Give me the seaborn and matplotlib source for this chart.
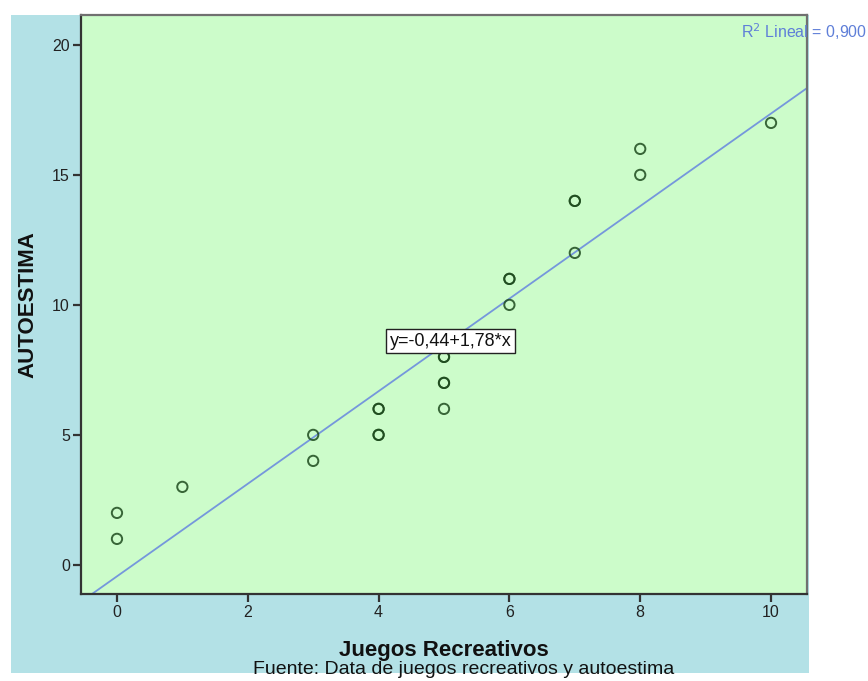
import matplotlib
matplotlib.use("Agg")
import matplotlib.pyplot as plt
from matplotlib.patches import Rectangle
import numpy as np
import pandas as pd
import seaborn as sns

# Observations (repeated pairs are listed once per case)
juegos = [0, 0, 1, 3, 3, 4, 4, 4, 4, 5, 5, 5, 5, 5, 6, 6, 6, 7, 7, 7, 8, 8, 10]
autoestima = [1, 2, 3, 4, 5, 5, 5, 6, 6, 6, 7, 7, 8, 8, 10, 11, 11, 12, 14, 14, 15, 16, 17]

# Fitted linear model as reported
intercepto = -0.44
pendiente = 1.78
r2 = 0.900

x_ticks = [0, 2, 4, 6, 8, 10]
y_ticks = [0, 5, 10, 15, 20]

df = pd.DataFrame({"Juegos Recreativos": juegos, "AUTOESTIMA": autoestima})

sns.set_theme(style="white")
plt.rcParams["font.family"] = ["Liberation Sans", "DejaVu Sans"]

W, H = 868, 681
fig = plt.figure(figsize=(W / 100, H / 100), dpi=100, facecolor="white")

# Outer chart panel
fig.patches.append(Rectangle((11 / W, 1 - 673 / H), (809 - 11) / W, (673 - 15) / H,
                             transform=fig.transFigure, facecolor="#b3e1e6",
                             edgecolor="none", zorder=-10))

ax = fig.add_axes([81 / W, 1 - 594 / H, (807 - 81) / W, (594 - 15) / H])
ax.set_zorder(1)
ax.set_facecolor("#ccfcca")

xmin, xmax = -0.55, 10.55
ymin, ymax = -1.12, 21.15

# Regression line across the full x-range
line_x = np.array([xmin - 0.5, xmax + 0.5])
line_df = pd.DataFrame({"x": line_x, "y": intercepto + pendiente * line_x})
sns.lineplot(data=line_df, x="x", y="y", ax=ax, color="#7597dc", linewidth=1.3, zorder=2)

sns.scatterplot(data=df, x="Juegos Recreativos", y="AUTOESTIMA", ax=ax,
                marker="o", s=55, facecolor="none", edgecolor="#1d4a1d",
                linewidth=1.4, alpha=0.85, zorder=3)

ax.set_xlim(xmin, xmax)
ax.set_ylim(ymin, ymax)
ax.set_xticks(x_ticks)
ax.set_yticks(y_ticks)
ax.tick_params(axis="both", which="major", direction="out", length=6, width=1.6,
               color="#333333", labelsize=11.5, labelcolor="#222222", pad=2,
               bottom=True, left=True)

for side in ["left", "bottom"]:
    ax.spines[side].set_color("#333333")
    ax.spines[side].set_linewidth(1.6)
for side in ["top", "right"]:
    ax.spines[side].set_color("#707070")
    ax.spines[side].set_linewidth(1.6)

ax.set_xlabel("Juegos Recreativos", fontsize=16, fontweight="bold", color="#111111")
ax.xaxis.set_label_coords(0.5, -0.097)
ax.xaxis.label.set_va("center")
ax.set_ylabel("AUTOESTIMA", fontsize=16, fontweight="bold", color="#111111")
ax.yaxis.set_label_coords(-0.073, 0.5)
ax.yaxis.label.set_va("center")

# Equation label box
ax.text(4.17, 8.6, "y=-0,44+1,78*x", fontsize=13, color="#111111", ha="left", va="center",
        bbox=dict(boxstyle="square,pad=0.2", facecolor="white", edgecolor="#222222", linewidth=1),
        zorder=4)

# R-squared annotation
fig.text(741 / W, 1 - 32 / H, "R$^2$ Lineal = 0,900", fontsize=11.5, color="#5f7fd8",
         ha="left", va="center")

# Source note
fig.text(464 / W, 1 - 670 / H, "Fuente: Data de juegos recreativos y autoestima",
         fontsize=14, color="#111111", ha="center", va="center")

fig.savefig("out.png", dpi=100, facecolor="white")
